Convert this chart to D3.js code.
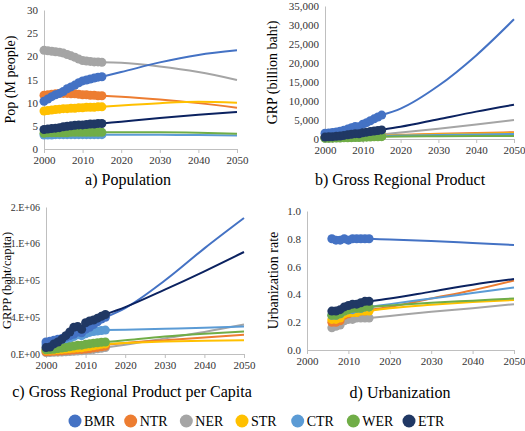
<!DOCTYPE html><html><head><meta charset="utf-8">
<script src="https://cdn.jsdelivr.net/npm/d3@7"></script>
<style>body{margin:0;background:#fff}</style></head><body>
<svg id="c" width="525" height="431"></svg>
<script>
const regions=["BMR","NTR","NER","STR","CTR","WER","ETR"];
const colors=["#4472C4","#ED7D31","#A5A5A5","#FFC000","#5B9BD5","#70AD47","#203864"];
const lineColors=["#4472C4","#ED7D31","#A5A5A5","#FFC000","#5B9BD5","#70AD47","#0B2260"];
const histYears=[2000,2001,2002,2003,2004,2005,2006,2007,2008,2009,2010,2011,2012,2013,2014,2015];
const urbYears=[2006,2007,2008,2009,2010,2011,2012,2013,2014,2015];
const projYears=[2015,2020,2030,2040,2050];
const popHist={
BMR:[10.3,10.8,11.3,11.7,12.0,12.4,13.0,13.4,13.8,14.3,14.7,14.9,15.1,15.3,15.5,15.6],
NTR:[11.6,11.7,11.8,11.9,12.0,12.0,12.0,11.9,11.9,11.8,11.7,11.7,11.6,11.6,11.5,11.5],
NER:[21.3,21.2,21.1,21.0,20.9,20.7,20.4,20.1,19.8,19.4,19.1,19.0,18.9,18.8,18.8,18.7],
STR:[8.2,8.3,8.4,8.5,8.6,8.7,8.7,8.8,8.8,8.9,8.9,9.0,9.0,9.0,9.1,9.1],
CTR:[3.0,3.0,3.0,3.1,3.1,3.1,3.1,3.1,3.1,3.1,3.1,3.1,3.1,3.1,3.1,3.1],
WER:[3.4,3.5,3.5,3.5,3.5,3.5,3.5,3.6,3.6,3.6,3.6,3.6,3.6,3.6,3.6,3.6],
ETR:[4.2,4.3,4.4,4.5,4.6,4.8,4.9,5.0,5.1,5.2,5.2,5.3,5.4,5.4,5.5,5.5]};
const popProj={BMR:[15.6,16.6,18.7,20.3,21.3],NTR:[11.5,11.3,10.7,9.9,8.9],NER:[18.7,18.6,17.8,16.6,14.9],
STR:[9.1,9.4,9.9,10.2,10.0],CTR:[3.1,3.1,3.1,3.0,2.9],WER:[3.6,3.6,3.6,3.5,3.3],ETR:[5.5,5.9,6.7,7.4,8.0]};
const grpHist={
BMR:[1500,1600,1700,1850,2050,2300,2600,2950,3300,3200,3900,4300,4800,5300,5800,6300],
NTR:[300,320,340,370,400,430,470,510,550,560,620,660,700,740,770,800],
NER:[350,370,390,420,460,500,550,600,650,680,760,850,950,1050,1120,1200],
STR:[300,320,340,370,400,440,490,540,590,600,660,700,740,780,810,850],
CTR:[250,270,290,320,350,390,430,470,510,520,580,620,660,700,730,760],
WER:[200,210,230,250,270,300,330,360,390,400,440,480,520,560,590,620],
ETR:[500,560,620,700,800,950,1100,1250,1400,1350,1650,1800,1950,2100,2250,2400]};
const grpProj={BMR:[6300,8000,14000,22000,31500],NTR:[800,1100,1400,1600,1800],NER:[1200,1700,2700,3800,5000],
STR:[850,1000,1200,1350,1500],CTR:[760,900,1050,1200,1300],WER:[620,680,730,770,800],ETR:[2400,3200,5200,7200,9000]};
const grppHist={
BMR:[130000,140000,150000,160000,170000,185000,200000,215000,240000,230000,270000,290000,320000,350000,380000,400000],
NTR:[25000,27000,29000,31000,34000,37000,40000,44000,48000,50000,55000,60000,66000,72000,78000,85000],
NER:[15000,16000,18000,20000,22000,24000,27000,30000,33000,35000,40000,45000,50000,56000,62000,70000],
STR:[40000,42000,44000,47000,50000,54000,58000,62000,66000,68000,75000,82000,90000,98000,105000,110000],
CTR:[100000,110000,120000,130000,140000,150000,170000,190000,210000,200000,220000,235000,245000,250000,255000,260000],
WER:[45000,48000,52000,58000,64000,70000,78000,86000,94000,96000,105000,112000,118000,123000,127000,130000],
ETR:[70000,75000,110000,130000,160000,200000,240000,290000,300000,270000,340000,360000,370000,390000,410000,430000]};
const grppProj={BMR:[400000,500000,800000,1150000,1480000],NTR:[100000,120000,150000,180000,210000],NER:[70000,100000,170000,240000,320000],
STR:[110000,120000,135000,145000,150000],CTR:[260000,265000,275000,285000,300000],WER:[130000,150000,190000,220000,245000],ETR:[430000,510000,700000,900000,1110000]};
const urbHist={
BMR:[0.80,0.79,0.79,0.80,0.79,0.80,0.80,0.80,0.80,0.80],
NTR:[0.20,0.20,0.21,0.25,0.26,0.27,0.27,0.28,0.28,0.29],
NER:[0.16,0.17,0.18,0.21,0.22,0.22,0.23,0.23,0.23,0.23],
STR:[0.22,0.22,0.23,0.26,0.27,0.27,0.27,0.28,0.28,0.28],
CTR:[0.25,0.25,0.26,0.28,0.29,0.29,0.30,0.30,0.31,0.31],
WER:[0.25,0.25,0.26,0.28,0.29,0.30,0.30,0.30,0.31,0.31],
ETR:[0.28,0.28,0.29,0.31,0.32,0.33,0.33,0.34,0.35,0.35]};
const urbProj={BMR:[0.80,0.795,0.785,0.77,0.755],NTR:[0.29,0.31,0.37,0.43,0.50],NER:[0.23,0.245,0.275,0.30,0.33],
STR:[0.28,0.30,0.325,0.345,0.36],CTR:[0.31,0.33,0.37,0.41,0.45],WER:[0.31,0.32,0.34,0.355,0.37],ETR:[0.35,0.37,0.42,0.47,0.51]};
const xTicks=[2000,2010,2020,2030,2040,2050];
const FF="Liberation Serif";
const svg=d3.select("#c");
const panels=[
 {hist:popHist,proj:popProj,hy:histYears,x0:44,x1:237,yT:10,yB:149,max:30,ticks:[0,5,10,15,20,25,30],fmt:d=>d,ylab:"Pop (M people)",title:"a) Population",ty:185,tx:128,ylx:4,yls:14,tfs:11},
 {hist:grpHist,proj:grpProj,hy:histYears,x0:325,x1:514,yT:6,yB:139,max:35000,ticks:[0,5000,10000,15000,20000,25000,30000,35000],fmt:d3.format(","),ylab:"GRP (billion baht)",title:"b) Gross Regional Product",ty:185,tx:400,ylx:266,yls:14,tfs:11},
 {hist:grppHist,proj:grppProj,hy:histYears,x0:46,x1:244,yT:207,yB:354,max:1600000,ticks:[0,400000,800000,1200000,1600000],fmt:d=>["0.E+00","4.E+05","8.E+05","1.E+06","2.E+06"][d/400000],ylab:"GRPP (baht/capita)",title:"c) Gross Regional Product per Capita",ty:397,tx:132,ylx:2,yls:12.5,tfs:10},
 {hist:urbHist,proj:urbProj,hy:urbYears,x0:307,x1:514,yT:211,yB:350,max:1.0,ticks:[0,0.2,0.4,0.6,0.8,1.0],fmt:d3.format(".1f"),ylab:"Urbanization rate",title:"d) Urbanization",ty:398,tx:400,ylx:267,yls:14,tfs:11}
];
panels.forEach(p=>{
 const x=d3.scaleLinear().domain([2000,2050]).range([p.x0,p.x1]);
 const y=d3.scaleLinear().domain([0,p.max]).range([p.yB,p.yT]);
 const g=svg.append("g");
 const ax=g.append("g").attr("transform",`translate(0,${p.yB})`).call(d3.axisBottom(x).tickValues(xTicks).tickFormat(d3.format("d")).tickSize(4).tickSizeOuter(0));
 const ay=g.append("g").attr("transform",`translate(${p.x0},0)`).call(d3.axisLeft(y).tickValues(p.ticks).tickFormat(p.fmt).tickSize(0));
 [ax,ay].forEach(a=>{a.attr("font-family",FF).attr("font-size",11);a.selectAll("path,line").attr("stroke","#bfbfbf");a.selectAll("text").attr("fill","#333");});
 ay.attr("font-size",p.tfs);
 ay.selectAll("text").attr("dx",-3);
 g.append("text").attr("transform",`translate(${p.ylx},${(p.yT+p.yB)/2}) rotate(-90)`).attr("text-anchor","middle").attr("dy","0.75em").attr("font-size",p.yls).attr("font-family",FF).text(p.ylab);
 g.append("text").attr("x",p.tx).attr("y",p.ty).attr("text-anchor","middle").attr("font-size",16).attr("font-family",FF).text(p.title);
 const line=d3.line().x(d=>x(d[0])).y(d=>y(d[1])).curve(d3.curveMonotoneX);
 const order=[2,1,3,4,5,0,6];
 order.forEach(i=>{const r=regions[i];
  g.append("path").attr("d",line(projYears.map((yr,k)=>[yr,p.proj[r][k]]))).attr("fill","none").attr("stroke",lineColors[i]).attr("stroke-width",2);
 });
 order.forEach(i=>{const r=regions[i];
  g.append("path").attr("d",line(p.hy.map((yr,k)=>[yr,p.hist[r][k]]))).attr("fill","none").attr("stroke",colors[i]).attr("stroke-width",3);
  g.selectAll(null).data(p.hy.map((yr,k)=>[yr,p.hist[r][k]])).enter().append("circle").attr("cx",d=>x(d[0])).attr("cy",d=>y(d[1])).attr("r",4.5).attr("fill",colors[i]);
 });
});
const lx=d3.scalePoint().domain(regions).range([75,409]);
const lg=svg.append("g");
regions.forEach((r,i)=>{
 lg.append("circle").attr("cx",lx(r)).attr("cy",421).attr("r",6.5).attr("fill",colors[i]);
 lg.append("text").attr("x",lx(r)+9).attr("y",425.5).attr("font-size",14).attr("font-family",FF).text(r);
});
</script></body></html>
